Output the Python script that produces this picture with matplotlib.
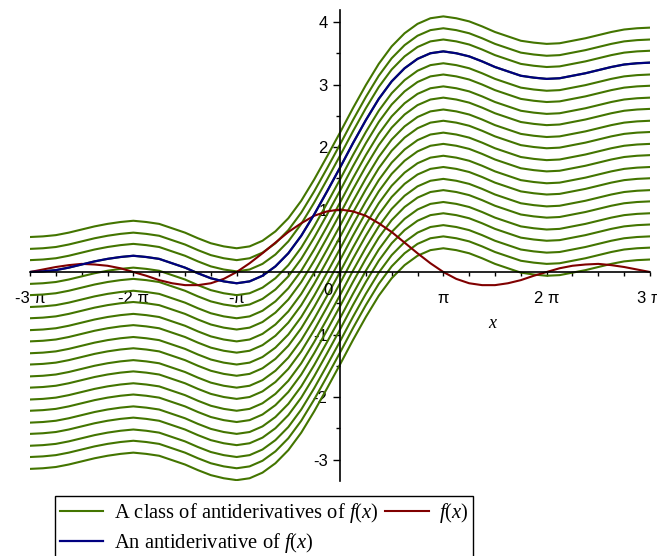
import numpy as np
import matplotlib
matplotlib.use('Agg')
import matplotlib.pyplot as plt
from matplotlib.ticker import MultipleLocator, FixedLocator

# sample points, every pi/8 from -3pi to 3pi
k = np.arange(-24, 25)
x = k * np.pi / 8

# f(x) values (even function)
f_half = [1.00, 0.97, 0.90, 0.78, 0.64, 0.47, 0.30, 0.14, 0.00,
          -0.11, -0.18, -0.21, -0.21, -0.18, -0.13, -0.06, 0.00,
          0.06, 0.10, 0.12, 0.13, 0.11, 0.08, 0.04, 0.00]
f_vals = f_half[:0:-1] + f_half

# the blue antiderivative
F_vals = [0.00, 0.01, 0.03, 0.07, 0.12, 0.17, 0.21, 0.24, 0.26,
          0.24, 0.21, 0.14, 0.07, -0.02, -0.10, -0.15, -0.18,
          -0.15, -0.06, 0.09, 0.30, 0.58, 0.92, 1.29, 1.67,
          2.06, 2.43, 2.77, 3.05, 3.26, 3.41, 3.50, 3.53,
          3.50, 3.45, 3.37, 3.28, 3.21, 3.14, 3.11, 3.09,
          3.10, 3.14, 3.18, 3.23, 3.28, 3.32, 3.34, 3.35]

# constants for the green family
C_vals = [0.56, 0.37, 0.19, 0.0, -0.19, -0.37, -0.56, -0.74, -0.93, -1.11, -1.30,
          -1.48, -1.67, -1.85, -2.04, -2.22, -2.41, -2.59, -2.78, -2.96, -3.15]

x_ticks = [-3*np.pi, -2*np.pi, -np.pi, np.pi, 2*np.pi, 3*np.pi]
x_labels = ['-3 π', '-2 π', '-π', 'π', '2 π', '3 π']
y_ticks = [-3, -2, -1, 1, 2, 3, 4]

green = '#437500'
red = '#800000'
blue = '#000080'

plt.rcParams['font.family'] = 'Liberation Sans'
plt.rcParams['mathtext.fontset'] = 'custom'
plt.rcParams['mathtext.rm'] = 'Liberation Serif'
plt.rcParams['mathtext.it'] = 'Liberation Serif:italic'

fig = plt.figure(figsize=(6.57, 5.56), dpi=100)
ax = fig.add_axes([30/657, 0.1342, 620/657, 0.8487])

F = np.array(F_vals)
for i, c in enumerate(C_vals):
    ax.plot(x, F + c, color=green, lw=1.5,
            label='A class of antiderivatives of $f(x)$' if i == 0 else None)
ax.plot(x, f_vals, color=red, lw=1.5, label='$f(x)$')
ax.plot(x, F, color=blue, lw=1.6, label='An antiderivative of $f(x)$')

ax.set_xlim(-3*np.pi, 3*np.pi)
ax.set_ylim(-3.35, 4.2)

for s in ['top', 'right']:
    ax.spines[s].set_visible(False)
ax.spines['left'].set_position(('data', 0))
ax.spines['bottom'].set_position(('data', 0))
ax.spines['left'].set_linewidth(1.2)
ax.spines['bottom'].set_linewidth(1.2)

ax.xaxis.set_major_locator(FixedLocator(x_ticks))
ax.set_xticklabels(x_labels)
ax.xaxis.set_minor_locator(MultipleLocator(np.pi/4))
ax.yaxis.set_major_locator(FixedLocator(y_ticks))
ax.set_yticklabels([str(v) for v in y_ticks])
ax.yaxis.set_minor_locator(MultipleLocator(0.5))

ax.tick_params(axis='x', which='both', direction='out', length=3, width=1, pad=11, labelsize=12)
ax.tick_params(axis='y', which='major', direction='out', length=5, width=1, pad=4, labelsize=12)
ax.tick_params(axis='y', which='minor', direction='out', length=3, width=1)

ax.text(-0.365, -0.29, '0', fontsize=12, ha='center', va='center')
ax.text(4.65, -0.82, '$x$', fontsize=13, ha='center', va='center')

handles, labels = ax.get_legend_handles_labels()
order = [0, 2, 1]
leg = fig.legend([handles[i] for i in order], [labels[i] for i in order],
                 loc='upper left', bbox_to_anchor=(55/657, 1 - 496/556), ncol=2,
                 frameon=True, fancybox=False, edgecolor='black', framealpha=1,
                 prop={'family': 'Liberation Serif', 'size': 14.8},
                 handlelength=2.1, handletextpad=0.5, columnspacing=0.35,
                 borderpad=0.25, labelspacing=0.3, borderaxespad=0)
leg.get_frame().set_linewidth(1.0)

fig.savefig('out.png', dpi=100)
